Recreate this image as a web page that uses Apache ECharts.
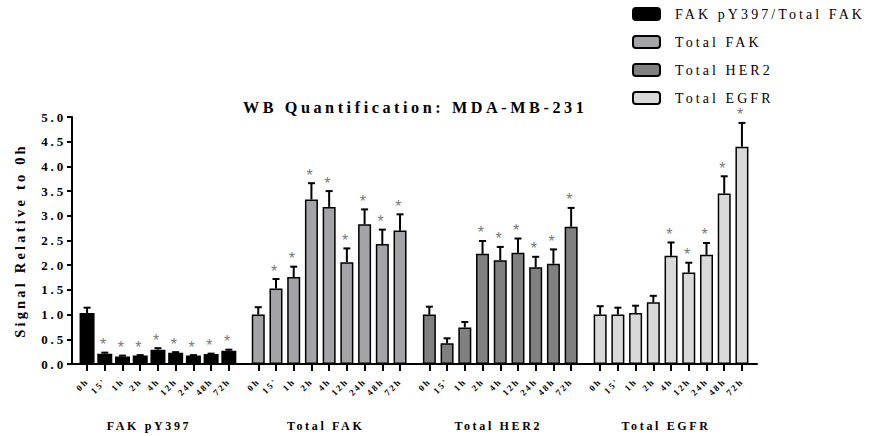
<!DOCTYPE html>
<html><head><meta charset="utf-8">
<script src="https://cdn.jsdelivr.net/npm/echarts@6/dist/echarts.min.js"></script>
<style>
html,body{margin:0;padding:0;background:#fff}
#c{width:869px;height:436px}
#c text{letter-spacing:0.22em}
</style>
</head><body><div id="c"></div>
<script>
// ---- data ----
const categories = ['0h', "15'", '1h', '2h', '4h', '12h', '24h', '48h', '72h'];
const groupNames = ['FAK pY397', 'Total FAK', 'Total HER2', 'Total EGFR'];
const legendNames = ['FAK pY397/Total FAK', 'Total FAK', 'Total HER2', 'Total EGFR'];
const titleText = 'WB Quantification: MDA-MB-231';
const yAxisName = 'Signal Relative to 0h';

const fakPY397    = [1.03, 0.21, 0.15, 0.17, 0.29, 0.23, 0.17, 0.20, 0.27];
const fakPY397Err = [0.11, 0.02, 0.02, 0.01, 0.03, 0.01, 0.01, 0.01, 0.02];
const fakPY397Sig = [0, 1, 1, 1, 1, 1, 1, 1, 1];

const totalFAK    = [1.00, 1.53, 1.76, 3.33, 3.18, 2.06, 2.83, 2.43, 2.70];
const totalFAKErr = [0.15, 0.19, 0.21, 0.33, 0.32, 0.28, 0.30, 0.29, 0.33];
const totalFAKSig = [0, 1, 1, 1, 1, 1, 1, 1, 1];

const totalHER2    = [1.00, 0.42, 0.74, 2.23, 2.10, 2.25, 1.96, 2.03, 2.78];
const totalHER2Err = [0.16, 0.10, 0.11, 0.26, 0.27, 0.29, 0.21, 0.29, 0.38];
const totalHER2Sig = [0, 0, 0, 1, 1, 1, 1, 1, 1];

const totalEGFR    = [1.00, 1.00, 1.03, 1.25, 2.19, 1.85, 2.21, 3.45, 4.40];
const totalEGFRErr = [0.17, 0.14, 0.15, 0.13, 0.27, 0.20, 0.24, 0.35, 0.48];
const totalEGFRSig = [0, 0, 0, 0, 1, 1, 1, 1, 1];

const groupValues = [fakPY397, totalFAK, totalHER2, totalEGFR];
const groupErrs = [fakPY397Err, totalFAKErr, totalHER2Err, totalEGFRErr];
const groupSigs = [fakPY397Sig, totalFAKSig, totalHER2Sig, totalEGFRSig];

// ---- styling ----
const colors = ['#000000', '#a4a4a8', '#808080', '#d9d9d9'];
const barWidths = [15, 13, 13, 13];
const nameShift = [-9, -3.5, -2, -5];
const FONT = '"Liberation Serif", "Times New Roman", serif';
const gridLefts = [78.2, 249.4, 420.5, 591.3];
const gridWidth = 159.5;
const plotTop = 117, plotBottom = 72;

const chart = echarts.init(document.getElementById('c'), null, {renderer: 'svg'});

const grids = [{left: 72, right: 112, top: plotTop, bottom: plotBottom, outerBoundsMode: 'none', containLabel: false}];
const xAxes = [{
  gridIndex: 0, type: 'value', min: 0, max: 1, position: 'bottom',
  axisLine: {show: true, onZero: false, lineStyle: {color: '#000', width: 2}},
  axisTick: {show: false}, axisLabel: {show: false}, splitLine: {show: false}
}];
const yAxes = [{
  gridIndex: 0, type: 'value', min: 0, max: 5, interval: 0.5,
  name: yAxisName, nameLocation: 'middle', nameGap: 45,
  nameTextStyle: {fontFamily: FONT, fontWeight: 'bold', fontSize: 14.5, color: '#000'},
  axisLine: {show: true, onZero: false, lineStyle: {color: '#000', width: 2}},
  axisTick: {show: true, length: 5, lineStyle: {color: '#000', width: 2}},
  axisLabel: {fontFamily: FONT, fontWeight: 'bold', fontSize: 13, color: '#000', margin: 6,
    formatter: v => v.toFixed(1)},
  splitLine: {show: false}
}];
const series = [];

groupNames.forEach((g, k) => {
  const gi = k + 1;
  grids.push({left: gridLefts[k], width: gridWidth, top: plotTop, bottom: plotBottom, outerBoundsMode: 'none', containLabel: false});
  xAxes.push({
    gridIndex: gi, type: 'category', data: categories, position: 'bottom',
    name: g, nameLocation: 'middle', nameGap: 56,
    nameTextStyle: {fontFamily: FONT, fontWeight: 'bold', fontSize: 12, color: '#000',
      padding: [0, -2 * nameShift[k], 0, 0]},
    axisLine: {show: true, onZero: false, lineStyle: {color: '#000', width: 2}},
    axisTick: {show: true, alignWithLabel: true, length: 7, lineStyle: {color: '#000', width: 2}},
    axisLabel: {interval: 0, rotate: 45, margin: 16, fontFamily: FONT, fontWeight: 'bold', fontSize: 9, color: '#000'}
  });
  yAxes.push({gridIndex: gi, type: 'value', min: 0, max: 5, show: false});
  series.push({
    name: legendNames[k], type: 'bar', xAxisIndex: gi, yAxisIndex: gi,
    barWidth: barWidths[k], data: groupValues[k],
    itemStyle: {color: colors[k], borderColor: '#000', borderWidth: 1.5},
    z: 2
  });
  series.push({
    name: 'err' + k, type: 'custom', xAxisIndex: gi, yAxisIndex: gi, z: 3,
    data: categories.map((c, i) => [i, groupValues[k][i], groupErrs[k][i], groupSigs[k][i]]),
    renderItem: function (params, api) {
      const i = api.value(0), v = api.value(1), e = api.value(2), s = api.value(3);
      const top = api.coord([i, v + e]);
      const base = api.coord([i, v]);
      const ch = [
        {type: 'line', shape: {x1: top[0], y1: base[1], x2: top[0], y2: top[1]}, style: {stroke: '#000', lineWidth: 2}},
        {type: 'line', shape: {x1: top[0] - 3.5, y1: top[1], x2: top[0] + 3.5, y2: top[1]}, style: {stroke: '#000', lineWidth: 2}}
      ];
      if (s) ch.push({type: 'text', x: top[0], y: top[1] - 8,
        style: {text: '*', fill: '#7a7a7a', font: '16px "Liberation Sans"', lineHeight: 8, align: 'center', verticalAlign: 'middle'}});
      return {type: 'group', children: ch};
    }
  });
});

chart.setOption({
  animation: false,
  backgroundColor: '#fff',
  title: {text: titleText, left: 243, top: 100, padding: 0,
    textStyle: {fontFamily: FONT, fontWeight: 'bold', fontSize: 16.2, color: '#000'}},
  legend: {
    data: legendNames, orient: 'vertical', left: 632, top: 7, padding: 0,
    itemWidth: 27, itemHeight: 12, itemGap: 14,
    textStyle: {fontFamily: FONT, fontSize: 14, color: '#000', padding: [0, 0, 0, 10]}
  },
  grid: grids, xAxis: xAxes, yAxis: yAxes, series: series
});
</script>
</body></html>
